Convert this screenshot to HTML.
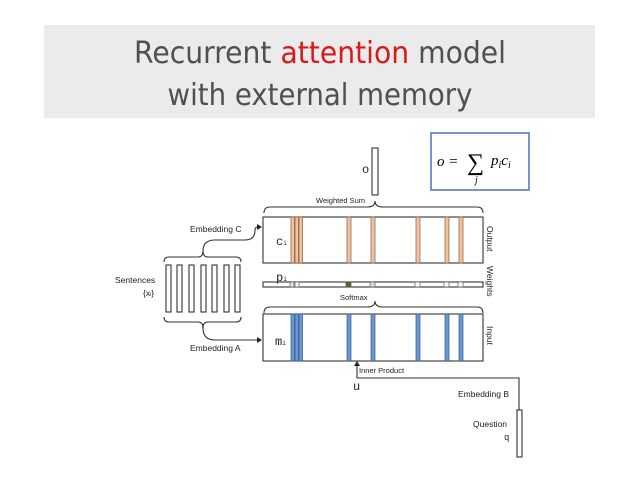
<!DOCTYPE html>
<html><head><meta charset="utf-8"><style>
html,body{margin:0;padding:0;background:#fff;}
svg{display:block;}
</style></head><body>
<svg width="638" height="479" viewBox="0 0 638 479" xmlns="http://www.w3.org/2000/svg" font-family="Liberation Sans, sans-serif">
<rect x="44" y="25" width="551" height="93" fill="#ebebeb"/>
<text x="320" y="63" font-size="30" text-anchor="middle" fill="#505050" font-family="DejaVu Sans, sans-serif" textLength="372" lengthAdjust="spacingAndGlyphs">Recurrent <tspan fill="#d71a1a">attention</tspan> model</text>
<text x="320" y="105" font-size="30" text-anchor="middle" fill="#505050" font-family="DejaVu Sans, sans-serif" textLength="305" lengthAdjust="spacingAndGlyphs">with external memory</text>

<rect x="431" y="133" width="98" height="57" fill="#fff" stroke="#4a72b8" stroke-width="1.5"/>
<text x="437" y="166" font-size="15" font-style="italic" font-family="Liberation Serif, serif">o =</text>
<text x="467" y="170" font-size="24" font-family="Liberation Serif, serif">∑</text>
<text x="475" y="183" font-size="10" font-style="italic" font-family="Liberation Serif, serif">j</text>
<text x="491" y="165" font-size="15" font-style="italic" font-family="Liberation Serif, serif">p<tspan font-size="10" dy="3">i</tspan><tspan dy="-3">c</tspan><tspan font-size="10" dy="3">i</tspan></text>

<g stroke="#333" fill="none" stroke-width="1.1">
<rect x="372" y="148" width="6" height="47" fill="#fff"/>
<path d="M264,213 q0,-6 6,-6 h97 q8,0 8,-6 q0,6 8,6 h94 q6,0 6,6"/>
<rect x="263" y="217" width="220" height="46" fill="#fff"/>
<rect x="263" y="282" width="220" height="5" fill="#fff"/>
<path d="M264,313 q0,-6 6,-6 h97 q8,0 8,-6 q0,6 8,6 h94 q6,0 6,6"/>
<rect x="263" y="314" width="220" height="47" fill="#fff"/>
<path d="M164,262 q0,-5 5,-5 h29 q5,0 5,-6 q0,6 5,6 h28 q5,0 5,5"/>
<path d="M164,317 q0,5 5,5 h29 q5,0 5,6 q0,-6 5,-6 h28 q5,0 5,-5"/>
<path d="M203,251 q0,-11 12,-11 h30 q10,0 10,-10 v0 q0,-3 3,-3 h3"/>
<path d="M203,328 q0,12 12,12 h30 q6,0 10,0 h5"/>
<path d="M519,410 v-32 h-162 v-14"/>
<rect x="517" y="410" width="5" height="47" fill="#fff"/>
</g>
<path d="M262,227 l-5,-3 v6 z" fill="#222"/>
<path d="M262,340 l-5,-3 v6 z" fill="#222"/>
<path d="M357,361 l-3,5 h6 z" fill="#222"/>

<g fill="#fff" stroke="#333" stroke-width="1.1">
<rect x="166" y="265" width="5" height="47"/><rect x="177" y="265" width="5" height="47"/>
<rect x="189" y="265" width="5" height="47"/><rect x="201" y="265" width="5" height="47"/>
<rect x="212" y="265" width="5" height="47"/><rect x="224" y="265" width="5" height="47"/>
<rect x="235" y="265" width="5" height="47"/>
</g>

<g fill="#f1c3a0" stroke="#8a5a3a" stroke-width="0.7">
<rect x="291" y="217" width="3.5" height="46"/><rect x="295" y="217" width="3.5" height="46"/><rect x="299" y="217" width="3.5" height="46"/>
<rect x="347" y="217" width="4" height="46"/><rect x="371" y="217" width="4" height="46"/>
<rect x="416" y="217" width="4" height="46"/><rect x="445" y="217" width="4" height="46"/><rect x="459" y="217" width="4" height="46"/>
</g>
<g fill="#6b97d0" stroke="#2f5a8f" stroke-width="0.7">
<rect x="291" y="314" width="3.5" height="47"/><rect x="295" y="314" width="3.5" height="47"/><rect x="299" y="314" width="3.5" height="47"/>
<rect x="347" y="314" width="4" height="47"/><rect x="371" y="314" width="4" height="47"/>
<rect x="416" y="314" width="4" height="47"/><rect x="445" y="314" width="4" height="47"/><rect x="459" y="314" width="4" height="47"/>
</g>
<g stroke="#556" stroke-width="0.7">
<rect x="290" y="282" width="4" height="5" fill="#e4ecd0"/><rect x="295" y="282" width="4" height="5" fill="#fff"/>
<rect x="346" y="282" width="5" height="5" fill="#4a6b2a"/><rect x="370" y="282" width="5" height="5" fill="#d5e2b8"/>
<rect x="415" y="282" width="5" height="5" fill="#fff"/><rect x="444" y="282" width="5" height="5" fill="#fff"/><rect x="458" y="282" width="5" height="5" fill="#fff"/>
</g>

<g fill="#222" font-size="7">
<text x="316" y="203" font-size="7.5">Weighted Sum</text>
<text x="340" y="300" font-size="7.5">Softmax</text>
<text x="190" y="232" font-size="8.5">Embedding C</text>
<text x="190" y="351" font-size="8.5">Embedding A</text>
<text x="115" y="283" font-size="8.5">Sentences</text>
<text x="143" y="296" font-size="8.5">{x<tspan font-size="5">i</tspan>}</text>
<text x="359" y="373" font-size="7.5">Inner Product</text>
<text x="458" y="397" font-size="8.5">Embedding B</text>
<text x="473" y="427" font-size="8.5">Question</text>
<text x="504" y="440" font-size="9" font-family="Liberation Mono, monospace">q</text>
<text x="362" y="173" font-size="12" font-family="Liberation Mono, monospace">o</text>
<text x="276" y="245" font-size="12" font-family="Liberation Mono, monospace">c<tspan font-size="6">i</tspan></text>
<text x="276" y="281" font-size="12" font-family="Liberation Mono, monospace">p<tspan font-size="6">i</tspan></text>
<text x="275" y="345" font-size="12" font-family="Liberation Mono, monospace">m<tspan font-size="6">i</tspan></text>
<text x="353" y="390" font-size="12" font-family="Liberation Mono, monospace">u</text>
<text transform="translate(487,226) rotate(90)" font-size="8.5">Output</text>
<text transform="translate(487,266) rotate(90)" font-size="8.5">Weights</text>
<text transform="translate(487,326) rotate(90)" font-size="8.5">Input</text>
</g>
</svg>
</body></html>
